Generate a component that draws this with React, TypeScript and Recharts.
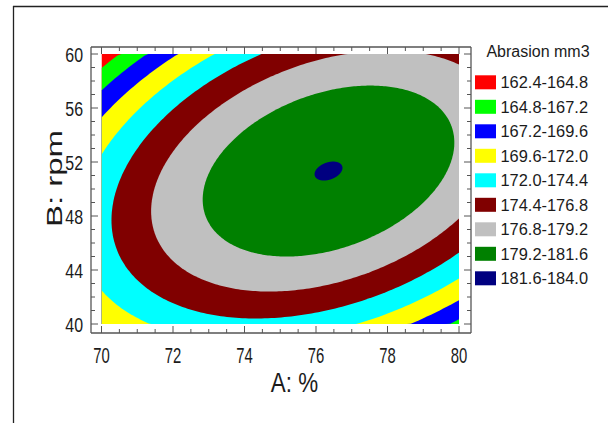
import React from 'react';
import { ComposedChart, Area, XAxis, YAxis } from 'recharts';

// Factor ranges and axis ticks
const A_DOMAIN: [number, number] = [70, 80];
const B_DOMAIN: [number, number] = [40, 60];
const A_TICKS = [70, 70.5, 71, 71.5, 72, 72.5, 73, 73.5, 74, 74.5, 75, 75.5, 76, 76.5, 77, 77.5, 78, 78.5, 79, 79.5, 80];
const A_LABELS = [70, 72, 74, 76, 78, 80];
const B_TICKS = [40, 41, 42, 43, 44, 45, 46, 47, 48, 49, 50, 51, 52, 53, 54, 55, 56, 57, 58, 59, 60];
const B_LABELS = [40, 44, 48, 52, 56, 60];

// Quadratic response surface for abrasion (mm3), written about its optimum:
// Abrasion = PEAK - (AA*dA^2 + AB*dA*dB + BB*dB^2)
const PEAK = 181.63;
const OPT_A = 76.35;
const OPT_B = 51.33;
const COEF_AA = 0.2207;
const COEF_BB = 0.0682;
const COEF_AB = -0.0818;

// Contour bands
const BAND_EDGES = [162.4, 164.8, 167.2, 169.6, 172.0, 174.4, 176.8, 179.2, 181.6, 184.0];
const BAND_COLORS = ['#ff0000', '#00ff00', '#0000ff', '#ffff00', '#00ffff', '#800000', '#c0c0c0', '#008000', '#000080'];
const LEGEND_TITLE = 'Abrasion mm3';

const FRAME = '#555555';
const INK = '#1b1b1b';
const FONT = '"Liberation Sans", Arial, Helvetica, sans-serif';

const clamp = (v: number, lo: number, hi: number) => Math.min(hi, Math.max(lo, v));

// Region where Abrasion >= level: an ellipse, returned as a low/high range per A value
function superLevelRegion(level: number) {
  const r = PEAK - level;
  if (r <= 0) return [];
  const c = COEF_AB / 2;
  const kA = COEF_AA - (c * c) / COEF_BB;
  const uMax = Math.sqrt(r / kA);
  const xs: number[] = [];
  const N = 200;
  for (let i = 0; i <= N; i++) {
    const x = OPT_A - uMax * Math.cos((Math.PI * i) / N);
    if (x >= A_DOMAIN[0] && x <= A_DOMAIN[1]) xs.push(x);
  }
  if (OPT_A - uMax < A_DOMAIN[0]) xs.unshift(A_DOMAIN[0]);
  if (OPT_A + uMax > A_DOMAIN[1]) xs.push(A_DOMAIN[1]);
  return xs.map((x) => {
    const u = x - OPT_A;
    const mid = OPT_B - (c * u) / COEF_BB;
    const h = Math.sqrt(Math.max(0, (r - kA * u * u) / COEF_BB));
    return {
      a: x,
      range: [clamp(mid - h, B_DOMAIN[0], B_DOMAIN[1]), clamp(mid + h, B_DOMAIN[0], B_DOMAIN[1])],
    };
  });
}

const fullRegion = [
  { a: A_DOMAIN[0], range: [B_DOMAIN[0], B_DOMAIN[1]] },
  { a: A_DOMAIN[1], range: [B_DOMAIN[0], B_DOMAIN[1]] },
];

const bandRegions = BAND_COLORS.map((color, i) => ({
  color,
  data: i === 0 ? fullRegion : superLevelRegion(BAND_EDGES[i]),
}));

const MAJOR = 7;
const MINOR = 4;

const BottomTick = (props: any) => {
  const { x, y, payload } = props;
  const v = payload.value;
  const major = A_LABELS.includes(v);
  return (
    <g>
      <line x1={x} y1={y} x2={x} y2={y - (major ? MAJOR : MINOR)} stroke={FRAME} strokeWidth={1} />
      {major && (
        <text transform={`translate(${x},${y + 30}) scale(0.66,1)`} textAnchor="middle" fontSize={22.5} fontFamily={FONT} fill={INK}>
          {v}
        </text>
      )}
    </g>
  );
};

const TopTick = (props: any) => {
  const { x, y, payload } = props;
  const major = A_LABELS.includes(payload.value);
  return <line x1={x} y1={y} x2={x} y2={y + (major ? MAJOR : MINOR)} stroke={FRAME} strokeWidth={1} />;
};

const LeftTick = (props: any) => {
  const { x, y, payload } = props;
  const v = payload.value;
  const major = B_LABELS.includes(v);
  return (
    <g>
      <line x1={x} y1={y} x2={x + (major ? MAJOR : MINOR)} y2={y} stroke={FRAME} strokeWidth={1} />
      {major && (
        <text transform={`translate(${x - 8},${y}) scale(0.76,1)`} textAnchor="end" dy="0.36em" fontSize={21} fontFamily={FONT} fill={INK}>
          {v}
        </text>
      )}
    </g>
  );
};

const RightTick = (props: any) => {
  const { x, y, payload } = props;
  const major = B_LABELS.includes(payload.value);
  return <line x1={x} y1={y} x2={x - (major ? MAJOR : MINOR)} y2={y} stroke={FRAME} strokeWidth={1} />;
};

export default function App() {
  const W = 608;
  const H = 423;
  return (
    <div style={{ position: 'absolute', left: 0, top: 0, width: W, height: H, background: '#ffffff' }}>
      <ComposedChart width={W} height={H} margin={{ top: 27, left: 71, right: 117, bottom: 70 }}>
        <XAxis
          xAxisId="bottom"
          dataKey="a"
          type="number"
          domain={A_DOMAIN}
          allowDataOverflow
          ticks={A_TICKS}
          interval={0}
          height={20}
          padding={{ left: 10.5, right: 12 }}
          axisLine={{ stroke: FRAME, strokeWidth: 1.3 }}
          tickLine={false}
          tickSize={0}
          tickMargin={0}
          tick={<BottomTick />}
        />
        <XAxis
          xAxisId="top"
          orientation="top"
          dataKey="a"
          type="number"
          domain={A_DOMAIN}
          allowDataOverflow
          ticks={A_TICKS}
          interval={0}
          height={20}
          padding={{ left: 10.5, right: 12 }}
          axisLine={{ stroke: FRAME, strokeWidth: 1.3 }}
          tickLine={false}
          tickSize={0}
          tickMargin={0}
          tick={<TopTick />}
        />
        <YAxis
          yAxisId="left"
          type="number"
          domain={B_DOMAIN}
          allowDataOverflow
          ticks={B_TICKS}
          interval={0}
          width={20}
          padding={{ top: 7, bottom: 9 }}
          axisLine={{ stroke: FRAME, strokeWidth: 1.3 }}
          tickLine={false}
          tickSize={0}
          tickMargin={0}
          tick={<LeftTick />}
        />
        <YAxis
          yAxisId="right"
          orientation="right"
          type="number"
          domain={B_DOMAIN}
          allowDataOverflow
          ticks={B_TICKS}
          interval={0}
          width={20}
          padding={{ top: 7, bottom: 9 }}
          axisLine={{ stroke: FRAME, strokeWidth: 1.3 }}
          tickLine={false}
          tickSize={0}
          tickMargin={0}
          tick={<RightTick />}
        />
        {bandRegions.map((band, i) => (
          <Area
            key={`band-${i}`}
            data={band.data}
            dataKey="range"
            xAxisId={i === 0 ? 'top' : 'bottom'}
            yAxisId={i === 0 ? 'right' : 'left'}
            type="linear"
            stroke="none"
            fill={band.color}
            fillOpacity={1}
            dot={false}
            activeDot={false}
            isAnimationActive={false}
          />
        ))}
      </ComposedChart>
      <svg
        width={W}
        height={H}
        style={{ position: 'absolute', left: 0, top: 0, pointerEvents: 'none' }}
      >
        <line x1={13.5} y1={6} x2={13.5} y2={H} stroke="#222" strokeWidth={1.3} />
        <line x1={13} y1={6.5} x2={W} y2={6.5} stroke="#222" strokeWidth={1.3} />
        <text transform="translate(294.5,392) scale(0.8,1)" textAnchor="middle" fontSize={28} fontFamily={FONT} fill={INK}>
          A: %
        </text>
        <text transform="translate(62,178.5) scale(0.66,1) rotate(-90)" textAnchor="middle" fontSize={33} fontFamily={FONT} fill={INK}>
          B: rpm
        </text>
        <text x={538} y={51.5} dy="0.36em" textAnchor="middle" fontSize={16} fontFamily={FONT} fill={INK}>
          {LEGEND_TITLE}
        </text>
        {BAND_COLORS.map((color, i) => {
          const cy = 82.3 + i * 24.5;
          return (
            <g key={`leg-${i}`}>
              <rect x={475} y={cy - 7} width={21} height={14} fill={color} />
              <text x={500.5} y={cy} dy="0.36em" fontSize={16.4} fontFamily={FONT} fill={INK}>
                {`${BAND_EDGES[i].toFixed(1)}-${BAND_EDGES[i + 1].toFixed(1)}`}
              </text>
            </g>
          );
        })}
      </svg>
    </div>
  );
}
